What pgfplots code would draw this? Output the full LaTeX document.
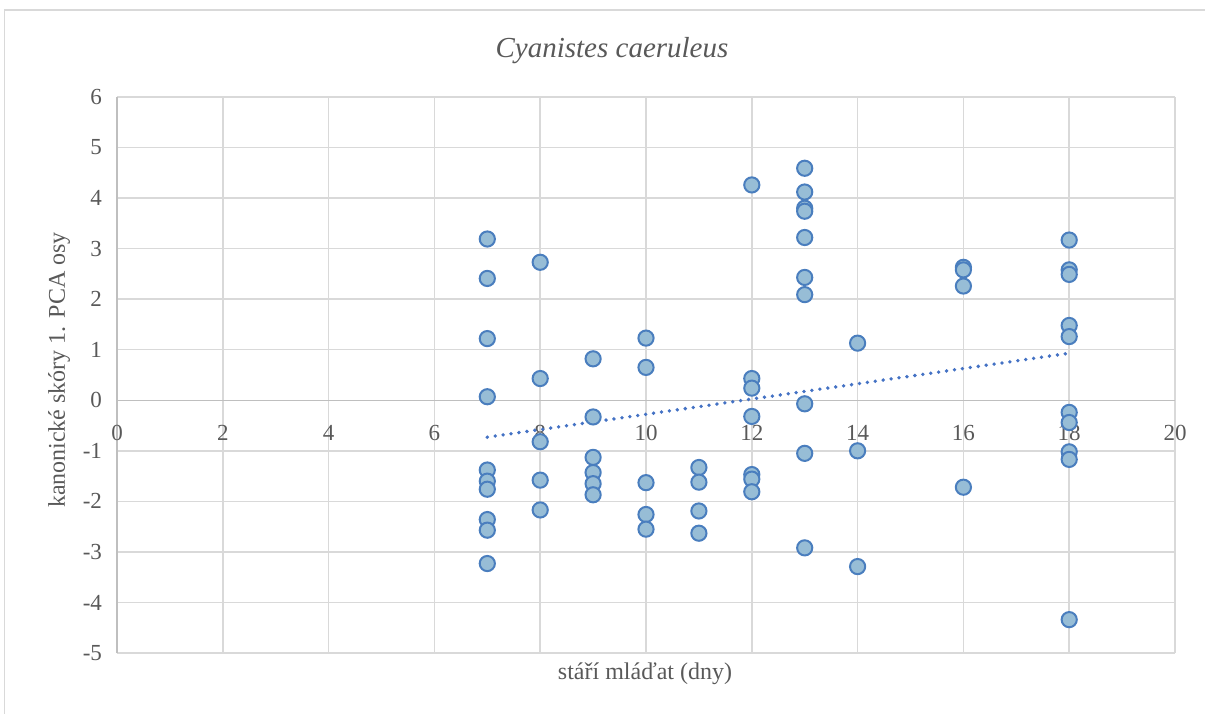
\documentclass[border=0pt]{standalone}
\usepackage{fontspec}
\setmainfont{Liberation Serif}
\usepackage{pgfplots}
\pgfplotsset{compat=1.18}

\definecolor{gridc}{RGB}{217,217,217}
\definecolor{axisc}{RGB}{191,191,191}
\definecolor{txt}{RGB}{89,89,89}
\definecolor{mfill}{RGB}{151,189,214}
\definecolor{mdraw}{RGB}{74,126,190}
\definecolor{trend}{RGB}{68,114,196}

% age of nestlings (days) vs. first PCA axis score
\pgfplotstableread{
x y
7 3.19
7 2.41
7 1.22
7 0.07
7 -1.38
7 -1.60
7 -1.76
7 -2.36
7 -2.57
7 -3.23
8 2.73
8 0.43
8 -0.82
8 -1.58
8 -2.17
9 0.82
9 -0.33
9 -1.13
9 -1.43
9 -1.65
9 -1.87
10 1.23
10 0.65
10 -1.63
10 -2.26
10 -2.55
11 -1.33
11 -1.62
11 -2.19
11 -2.63
12 4.26
12 0.43
12 0.24
12 -0.32
12 -1.47
12 -1.56
12 -1.81
13 4.59
13 4.12
13 3.80
13 3.74
13 3.22
13 2.43
13 2.09
13 -0.07
13 -1.05
13 -2.92
14 1.13
14 -1.00
14 -3.29
16 2.63
16 2.58
16 2.26
16 -1.72
18 3.17
18 2.58
18 2.49
18 1.48
18 1.26
18 -0.24
18 -0.44
18 -1.02
18 -1.17
18 -4.34
}\scores

\begin{document}
\begin{tikzpicture}
\useasboundingbox (0,0) rectangle (602.5pt,356.5pt);
% chart area frame
\draw[gridc, line width=0.75pt] (2.25pt,-5pt) -- (2.25pt,351.5pt) -- (610pt,351.5pt);

\begin{axis}[
  at={(58.5pt,30pt)}, anchor=south west,
  scale only axis, width=529pt, height=278pt,
  xmin=0, xmax=20, ymin=-5, ymax=6,
  xtick={0,2,...,20}, ytick={-5,-4,...,6},
  grid=major,
  major grid style={gridc, line width=0.75pt},
  axis x line=middle, axis y line=left,
  axis line style={axisc, line width=0.75pt, -},
  hide obscured x ticks=false, hide obscured y ticks=false,
  major tick length=0pt,
  tick label style={font=\fontsize{11.5}{13}\selectfont, text=txt},
  /pgf/number format/assume math mode=true,
  xticklabel style={yshift=-9pt},
  yticklabel style={xshift=-4pt},
  clip=false,
]
\addplot[only marks, mark=*, mark size=3.8pt,
  mark options={fill=mfill, draw=mdraw, line width=1pt}] table[x=x, y=y] {\scores};
% linear trend
\addplot[trend, line width=1.9pt, line cap=round, dash pattern=on 0pt off 4pt]
  coordinates {(7,-0.73) (18,0.93)};
\end{axis}

\node[text=txt, font=\fontsize{14.5}{17}\selectfont\itshape] at (306pt,331pt) {Cyanistes caeruleus};
\node[text=txt, font=\fontsize{12}{14}\selectfont] at (322.5pt,19.5pt) {stáří mláďat (dny)};
\node[text=txt, font=\fontsize{12}{14}\selectfont, rotate=90] at (29.5pt,171.5pt) {kanonické skóry 1. PCA osy};
\end{tikzpicture}
\end{document}
